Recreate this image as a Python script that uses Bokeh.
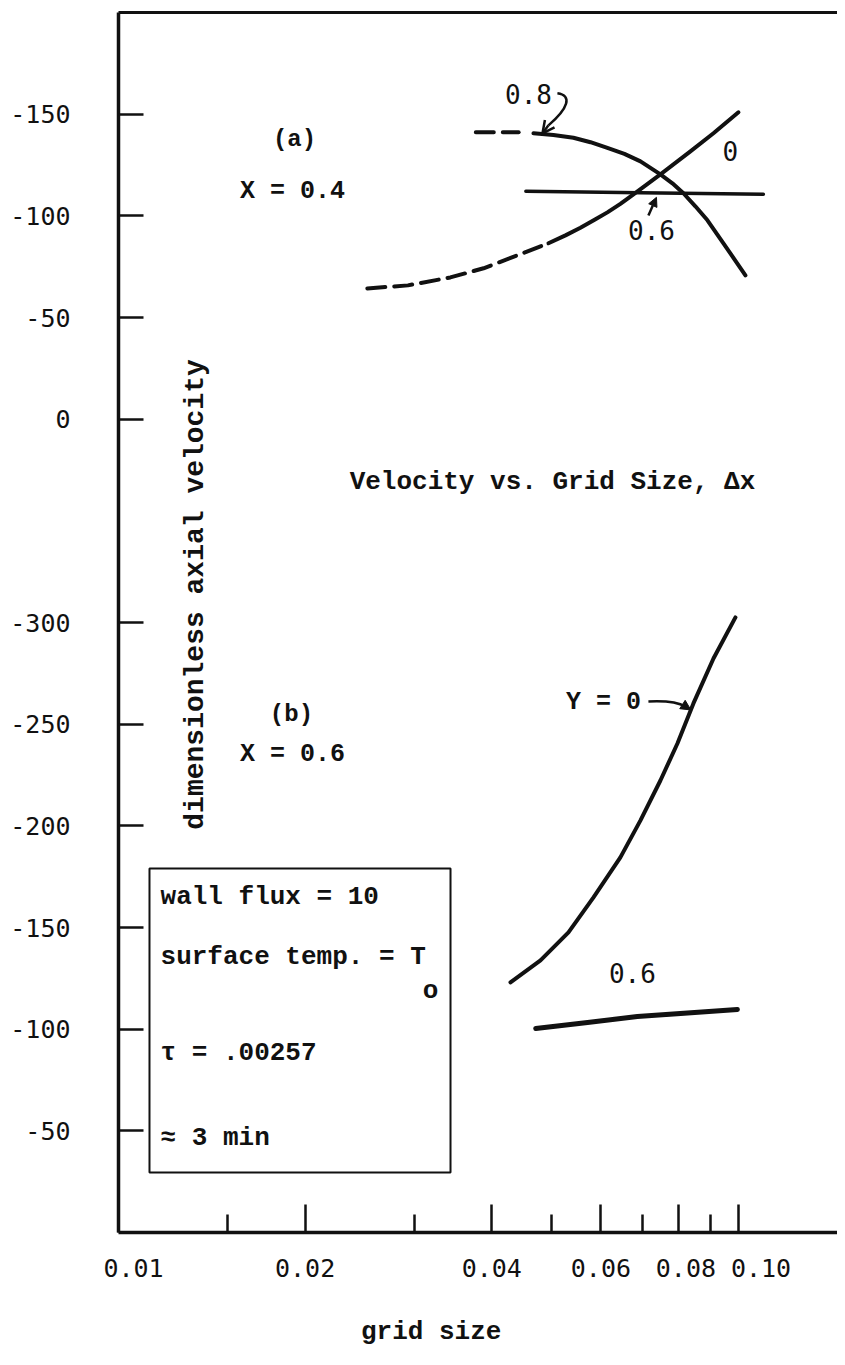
from bokeh.plotting import figure
from bokeh.models import (Range1d, FixedTicker, LogAxis, Arrow, OpenHead,
                          NormalHead)
from bokeh.core.properties import value
from bokeh.embed import file_html
from bokeh.resources import INLINE
import math

# ---------------- data: panel (a), X = 0.4 ----------------
a_y08_dash_grid = [0.0377, 0.0442]
a_y08_dash_vel = [-141.1, -141.1]
a_y08_grid = [0.04671, 0.05030, 0.05418, 0.05772, 0.06146, 0.06547, 0.06950, 0.07484,
              0.07825, 0.08151, 0.08522, 0.08913, 0.09458, 0.09853, 0.10263]
a_y08_vel = [-140.6, -139.8, -138.4, -136.2, -133.4, -130.5, -126.8, -120.4,
             -116.0, -111.1, -104.7, -97.8, -86.5, -78.6, -70.7]
a_y0_dash_grid = [0.0252, 0.0293, 0.0343, 0.0388, 0.0440, 0.0494]
a_y0_dash_vel = [-64.3, -65.8, -69.7, -74.2, -80.6, -86.5]
a_y0_grid = [0.04938, 0.05260, 0.05561, 0.05880, 0.06146, 0.06450, 0.06771, 0.07484,
             0.08366, 0.09114, 0.1000]
a_y0_vel = [-86.5, -90.4, -94.1, -98.3, -101.7, -105.9, -110.6, -120.4,
            -131.7, -140.6, -150.9]
a_y06_grid = [0.0454, 0.0695, 0.1097]
a_y06_vel = [-112.1, -111.3, -110.6]

# ---------------- data: panel (b), X = 0.6 ----------------
b_y0_grid = [0.04288, 0.04794, 0.05319, 0.05837, 0.06450, 0.06950, 0.07484, 0.07972,
             0.08460, 0.09114, 0.09889]
b_y0_vel = [-123.0, -133.8, -147.6, -164.8, -184.5, -202.7, -222.3, -240.5,
            -260.2, -282.3, -302.5]
b_y06_grid = [0.0471, 0.0571, 0.0687, 0.0996]
b_y06_vel = [-100.3, -103.3, -106.2, -109.7]

# ---------------- axes ----------------
x_major = [0.01, 0.02, 0.04, 0.06, 0.08, 0.10]
x_labels = ["\u00a0\u00a00.01", "0.02", "0.04", "0.06", "\u00a00.08",
            "\u00a0\u00a0\u00a00.10"]
x_minor = [0.015, 0.03, 0.05, 0.07, 0.09]
y_lower_ticks = [-300, -250, -200, -150, -100, -50]
y_upper_ticks = [-150, -100, -50, 0]
PANEL_SHIFT = 400   # panel (a) value u sits where panel (b) value u - 400 sits

INK = "#111111"
SERIF = "Liberation Mono"
SANS = "DejaVu Sans Mono"

p = figure(width=837, height=1349, x_axis_type="log",
           x_range=Range1d(0.01, 0.14447), y_range=Range1d(0, -600),
           output_backend="svg", toolbar_location=None,
           min_border_left=118, min_border_right=0, min_border_top=12,
           min_border_bottom=117)
p.extra_y_ranges = {"upper": Range1d(PANEL_SHIFT, -600 + PANEL_SHIFT)}
p.title.visible = False
p.xgrid.visible = False
p.ygrid.visible = False
p.outline_line_color = None
p.background_fill_color = "white"
p.border_fill_color = "white"

# y axis (one line shared by both panels)
yax = p.yaxis[0]
all_y = y_lower_ticks + [u - PANEL_SHIFT for u in y_upper_ticks]
yax.ticker = FixedTicker(ticks=all_y, minor_ticks=[])
overrides = {t: str(t) for t in y_lower_ticks}
overrides.update({u - PANEL_SHIFT: str(u) for u in y_upper_ticks})
yax.major_label_overrides = overrides
yax.major_tick_in = 25
yax.major_tick_out = 0
yax.minor_tick_in = 0
yax.minor_tick_out = 0
yax.axis_line_width = 3.5
yax.axis_line_color = INK
yax.major_tick_line_width = 2.5
yax.major_tick_line_color = INK
yax.major_label_text_font = SANS
yax.major_label_text_font_size = "25px"
yax.major_label_text_color = INK
yax.major_label_standoff = 48

# x axis
xax = p.xaxis[0]
xax.ticker = FixedTicker(ticks=x_major, minor_ticks=x_minor)
xax.major_label_overrides = {t: s for t, s in zip(x_major, x_labels)}
xax.major_tick_in = 28
xax.major_tick_out = 0
xax.minor_tick_in = 18
xax.minor_tick_out = 0
xax.axis_line_width = 3.5
xax.axis_line_color = INK
xax.major_tick_line_width = 2.5
xax.minor_tick_line_width = 2.5
xax.major_tick_line_color = INK
xax.minor_tick_line_color = INK
xax.major_label_text_font = SANS
xax.major_label_text_font_size = "25px"
xax.major_label_text_color = INK
xax.major_label_standoff = 21
# axis title sits left of centre in the original: trailing no-break spaces
xax.axis_label = "grid size" + "\u00a0" * 6
xax.axis_label_text_font = SERIF
xax.axis_label_text_font_style = "bold"
xax.axis_label_text_font_size = "26px"
xax.axis_label_text_color = INK
xax.axis_label_standoff = 31

# top frame line
top = LogAxis(ticker=FixedTicker(ticks=[], minor_ticks=[]), major_tick_in=0,
              major_tick_out=0, minor_tick_in=0, minor_tick_out=0,
              major_label_standoff=0, axis_line_width=3, axis_line_color=INK)
p.add_layout(top, "above")

# ---------------- curves ----------------
common = dict(line_color=INK, line_cap="round", line_join="round")
p.line(a_y08_dash_grid, a_y08_dash_vel, line_width=4, line_dash="18 9",
       y_range_name="upper", **common)
p.line(a_y08_grid, a_y08_vel, line_width=4, y_range_name="upper", **common)
p.line(a_y0_dash_grid, a_y0_dash_vel, line_width=4, line_dash="18 9",
       y_range_name="upper", **common)
p.line(a_y0_grid, a_y0_vel, line_width=4, y_range_name="upper", **common)
p.line(a_y06_grid, a_y06_vel, line_width=3.5, y_range_name="upper", **common)
p.line(b_y0_grid, b_y0_vel, line_width=4, **common)
p.line(b_y06_grid, b_y06_vel, line_width=5, **common)

# ---------------- texts ----------------
def txt(x, y, s, font=SERIF, size="26px", bold=True, align="center",
        rng="default", angle=0.0):
    p.text(x=[x], y=[y], text=[s], text_font=value(font), text_font_size=size,
           text_font_style="bold" if bold else "normal", text_align=align,
           text_baseline="middle", text_color=INK, angle=angle,
           y_range_name=rng)

txt(0.01923, -137.6, "(a)", size="24px", rng="upper")
txt(0.01908, -112.1, "X = 0.4", size="25px", rng="upper")
txt(0.04585, -159.8, "0.8", font=SANS, bold=False, rng="upper")
txt(0.09707, -131.7, "0", font=SANS, bold=False, rng="upper")
txt(0.07240, -92.9, "0.6", font=SANS, bold=False, rng="upper")

txt(0.05012, -368.9, "Velocity vs. Grid Size, \u0394x")
txt(0.01331, -313.8, "dimensionless axial velocity", size="28px",
    angle=math.pi / 2)

txt(0.01901, -254.8, "(b)", size="24px")
txt(0.01908, -235.1, "X = 0.6", size="25px")
txt(0.06057, -260.7, "Y = 0", size="25px")
txt(0.06745, -127.4, "0.6", font=SANS, bold=False)

# parameter box
p.quad(left=[0.01122], right=[0.03432], top=[-179.0], bottom=[-29.5],
       fill_color=None, line_color=INK, line_width=2)
txt(0.01169, -164.8, "wall flux = 10", align="left")
txt(0.01169, -135.3, "surface temp. = T", align="left")
txt(0.03186, -119.0, "o", align="center")
txt(0.01169, -88.5, "\u03c4 = .00257", align="left")
txt(0.01169, -46.7, "\u2248 3 min", align="left")

# ---------------- pointer arrows ----------------
p.bezier(x0=[0.05105], y0=[-160.3], x1=[0.04938], y1=[-144.5],
         cx0=[0.05398], cy0=[-159.3], cx1=[0.05318], cy1=[-152.9],
         line_color=INK, line_width=2.5, y_range_name="upper")
p.add_layout(Arrow(x_start=0.04938, y_start=-144.5, x_end=0.04830, y_end=-140.6,
                   y_range_name="upper", line_color=INK, line_width=2.5,
                   end=OpenHead(size=12, line_width=2.5, line_color=INK)))
p.add_layout(Arrow(x_start=0.07158, y_start=-100.2, x_end=0.07375, y_end=-109.1,
                   y_range_name="upper", line_color=INK, line_width=2.5,
                   end=NormalHead(size=9, fill_color=INK, line_color=INK)))
p.bezier(x0=[0.07158], y0=[-261.2], x1=[0.08215], y1=[-258.7],
         cx0=[0.07711], cy0=[-261.7], cx1=[0.08003], cy1=[-260.7],
         line_color=INK, line_width=2.5)
p.add_layout(Arrow(x_start=0.08215, y_start=-258.7, x_end=0.0838, y_end=-257.0,
                   line_color=INK, line_width=2.5,
                   end=NormalHead(size=10, fill_color=INK, line_color=INK)))

open("out.html", "w").write(file_html(p, INLINE))
